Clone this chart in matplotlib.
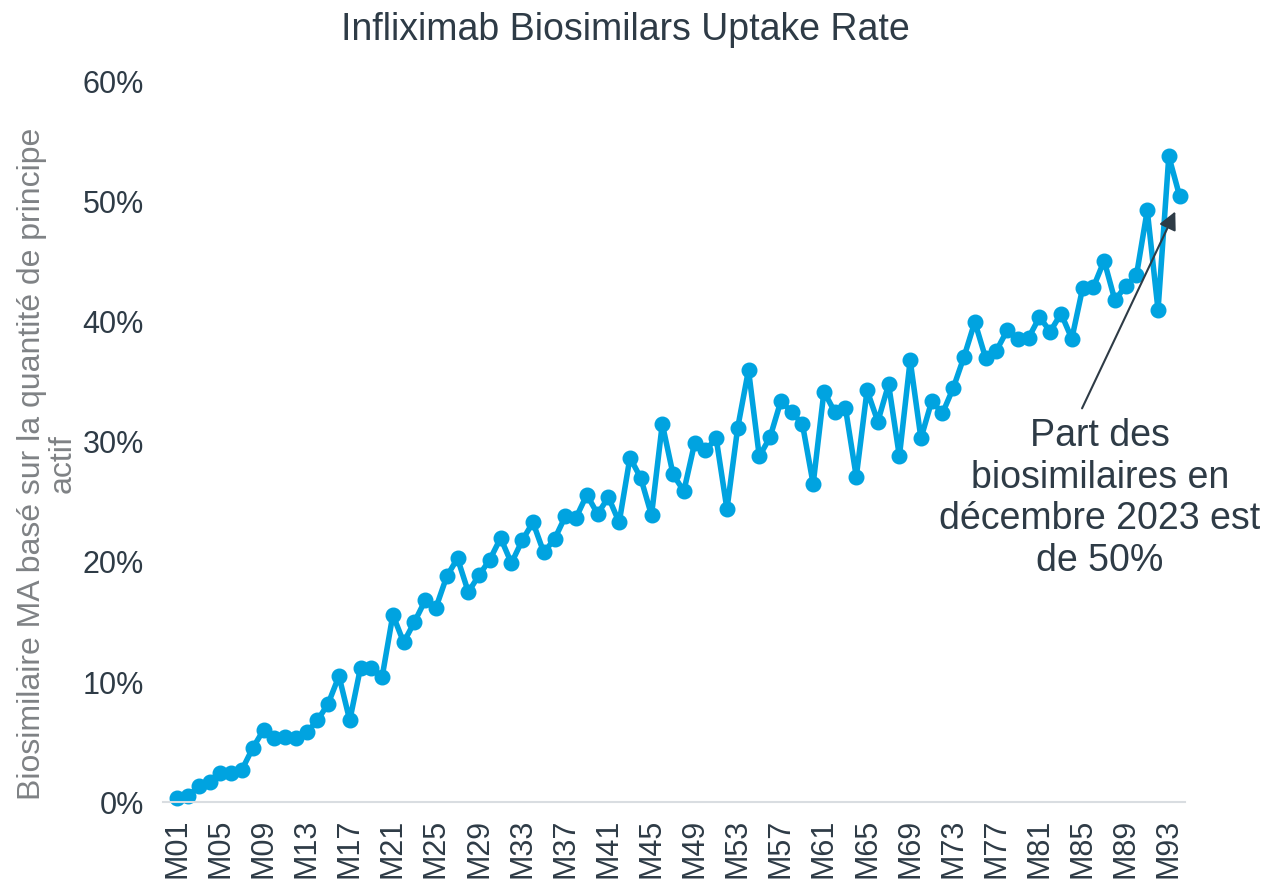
import numpy as np
import matplotlib
matplotlib.use("Agg")
import matplotlib.pyplot as plt
from matplotlib.ticker import PercentFormatter

plt.rcParams['font.family'] = ['Liberation Sans', 'DejaVu Sans']

months = ["M%02d" % i for i in range(1, 95)]
uptake = [0.3, 0.5, 1.3, 1.7, 2.4, 2.4, 2.7, 4.5, 6.0, 5.3,
          5.4, 5.3, 5.8, 6.8, 8.2, 10.5, 6.8, 11.2, 11.2, 10.4,
          15.6, 13.3, 15.0, 16.8, 16.2, 18.8, 20.3, 17.5, 18.9, 20.2,
          22.0, 19.9, 21.8, 23.3, 20.8, 21.9, 23.8, 23.7, 25.6, 24.0,
          25.4, 23.3, 28.7, 27.0, 23.9, 31.5, 27.3, 25.9, 29.9, 29.3,
          30.3, 24.4, 31.2, 36.0, 28.8, 30.4, 33.4, 32.5, 31.5, 26.5,
          34.2, 32.5, 32.8, 27.1, 34.3, 31.7, 34.8, 28.8, 36.8, 30.3,
          33.4, 32.4, 34.5, 37.1, 40.0, 37.0, 37.6, 39.3, 38.6, 38.7,
          40.4, 39.2, 40.7, 38.6, 42.8, 42.9, 45.1, 41.8, 43.0, 43.9,
          49.3, 41.0, 53.8, 50.5]
note = "Part des\nbiosimilaires en\ndécembre 2023 est\nde 50%"

blue = "#00a3e0"
dark = "#2e3b46"
grey = "#7f8285"

fig = plt.figure(figsize=(12.66, 8.88), dpi=100)
ax = fig.add_axes([0.129, 0.0968, 0.807, 0.811])

x = np.arange(len(months))
ax.plot(x, uptake, color=blue, lw=4, marker="o", ms=10.5, clip_on=False)

ax.set_ylim(0, 60)
ax.set_xlim(-1.3, 93.5)
ax.set_yticks(np.arange(0, 61, 10))
ax.yaxis.set_major_formatter(PercentFormatter(decimals=0))
ax.set_xticks(x[::4])
ax.set_xticklabels(months[::4], rotation=90)
ax.tick_params(axis="both", length=0, labelsize=22, colors=dark)
ax.tick_params(axis="x", pad=12)
ax.tick_params(axis="y", pad=14)

for s in ["top", "right", "left"]:
    ax.spines[s].set_visible(False)
ax.spines["bottom"].set_color("#d9dde1")
ax.spines["bottom"].set_linewidth(1.5)

ax.set_title("Infliximab Biosimilars Uptake Rate", fontsize=27, color=dark,
             pad=30, x=0.452)
ax.set_ylabel("Biosimilaire MA basé sur la quantité de principe\nactif",
              fontsize=23, color=grey, linespacing=1.0)
ax.yaxis.set_label_coords(-0.084, 0.47)

ax.annotate("", xy=(92.6, 49.2), xytext=(83.95, 32.8),
            arrowprops=dict(arrowstyle="-|>", color=dark, lw=1.5,
                            mutation_scale=27, shrinkA=0, shrinkB=0))
ax.text(85.6, 32.0, note, ha="center", va="top", fontsize=27, color=dark,
        linespacing=1.2)

fig.savefig("out.png", dpi=100)
